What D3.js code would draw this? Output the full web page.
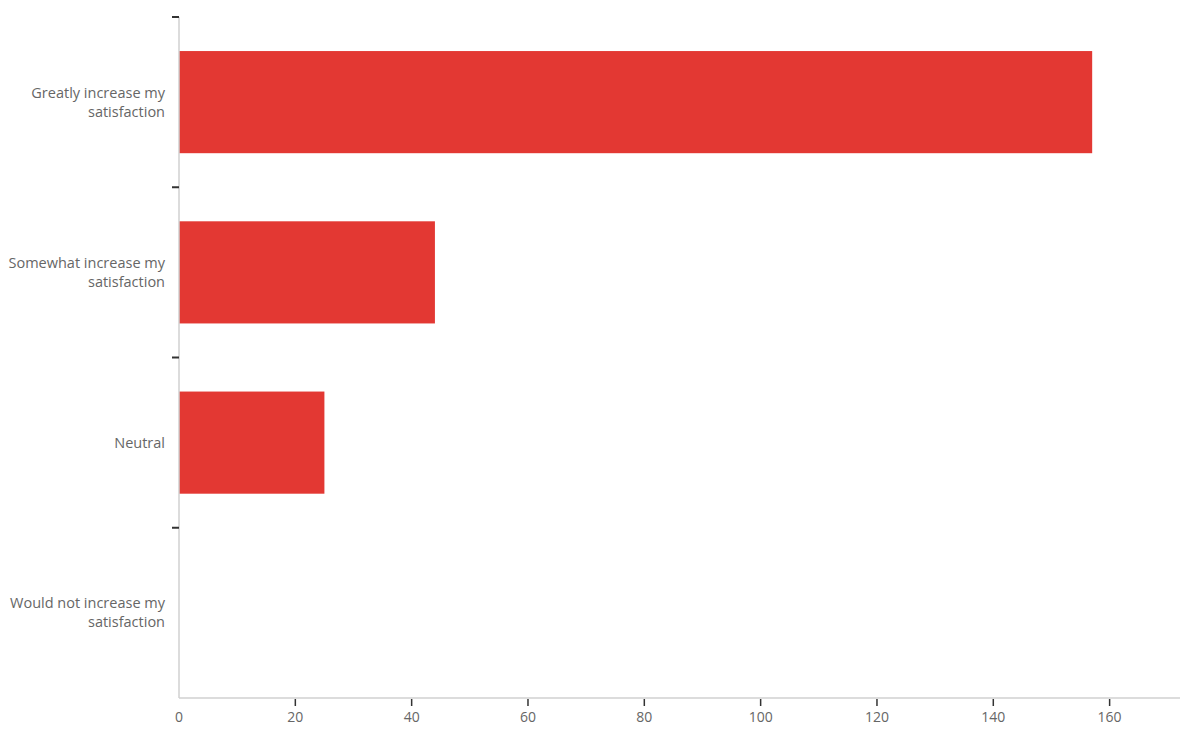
<!DOCTYPE html>
<html><head><meta charset="utf-8">
<script src="https://cdn.jsdelivr.net/npm/d3@7"></script>
<style>body{margin:0;background:#fff;} text{font-family:"Open Sans",sans-serif;}</style>
</head><body>
<svg id="c" width="1200" height="741"></svg>
<script>
const categories = ["Greatly increase my satisfaction","Somewhat increase my satisfaction","Neutral","Would not increase my satisfaction"];
const values = [157, 44, 25, 0];
const xTicks = [0,20,40,60,80,100,120,140,160];

(function(){
const svg = d3.select("#c");
const mLeft = 179, mRight = 1180, mTop = 17, mBottom = 698;
const x = d3.scaleLinear().domain([0, 172.1]).range([mLeft, mRight]);
const y = d3.scaleBand().domain(categories).range([mTop, mBottom]).paddingInner(0.4).paddingOuter(0.2);

svg.selectAll("rect.bar").data(categories).enter().append("rect")
  .attr("class","bar")
  .attr("x", x(0)).attr("y", d => y(d))
  .attr("width", (d,i) => x(values[i]) - x(0))
  .attr("height", y.bandwidth())
  .attr("fill", "#e33833");

svg.append("line").attr("x1", mLeft).attr("x2", mLeft).attr("y1", mTop).attr("y2", mBottom)
  .attr("stroke", "#d0d0d0").attr("stroke-width", 1.5);
svg.append("line").attr("x1", mLeft).attr("x2", mRight).attr("y1", mBottom).attr("y2", mBottom)
  .attr("stroke", "#d0d0d0").attr("stroke-width", 1.5);

const bounds = categories.map(d => y(d) - y.step()*y.paddingInner()/2);
svg.selectAll("line.yt").data(bounds).enter().append("line")
  .attr("class","yt")
  .attr("x1", mLeft - 7).attr("x2", mLeft).attr("y1", d => d).attr("y2", d => d)
  .attr("stroke", "#333").attr("stroke-width", 2);

svg.selectAll("line.xt").data(xTicks.filter(d => d > 0)).enter().append("line")
  .attr("class","xt")
  .attr("x1", d => x(d)).attr("x2", d => x(d)).attr("y1", mBottom + 1).attr("y2", mBottom + 8)
  .attr("stroke", "#333").attr("stroke-width", 1.5);
svg.selectAll("text.xl").data(xTicks).enter().append("text")
  .attr("class","xl")
  .attr("x", d => x(d)).attr("y", mBottom + 24).attr("text-anchor", "middle")
  .attr("fill", "#666").attr("font-size", 14).text(d => d);

categories.forEach(c => {
  const words = c.split(" ");
  const lines = words.length > 1 ? [words.slice(0, -1).join(" "), words[words.length-1]] : [c];
  const cy = y(c) + y.bandwidth()/2;
  const t = svg.append("text").attr("text-anchor", "end").attr("fill", "#666").attr("font-size", 14.5);
  lines.forEach((l, i) => {
    t.append("tspan").attr("x", 165).attr("y", cy + 5 + (i - (lines.length-1)/2) * 19).text(l);
  });
});
})();
</script>
</body></html>
